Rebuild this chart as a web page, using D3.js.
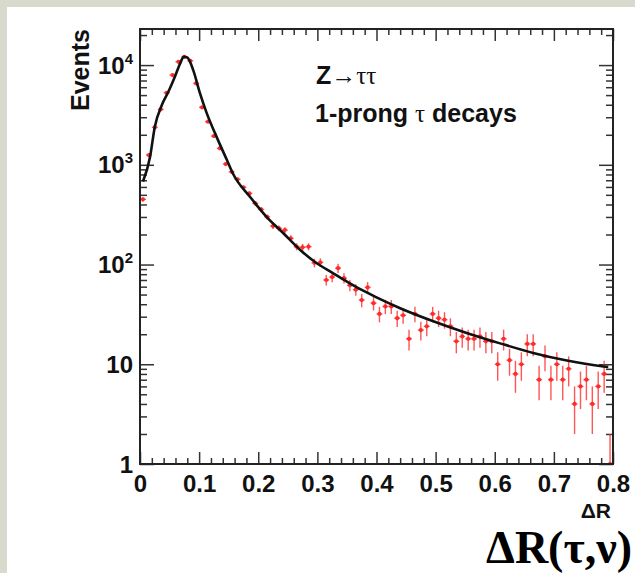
<!DOCTYPE html>
<html>
<head>
<meta charset="UTF-8">
<title>Delta R tau nu</title>
<script src="https://cdn.jsdelivr.net/npm/d3@7"></script>
<style>
  body { margin: 0; background: #ffffff; }
  svg { display: block; }
</style>
</head>
<body>
<svg width="635" height="573"></svg>
<script>
// bin contents, 80 bins of width 0.01 from 0 to 0.8
const binWidth = 0.01;
const counts = [
  451, 1253, 2373, 3595, 5275, 7943, 10790, 12110, 11040, 6550,
  3767, 2704, 1941, 1462, 1018, 851, 715, 594, 517, 411,
  357, 301, 243, 231, 222, 183, 151, 149, 151, 104,
  105, 70, 75, 92, 73, 62, 56, 44, 59, 41,
  32, 38, 38, 29, 31, 18, 32, 22, 24, 32,
  29, 28, 24, 17, 19, 18, 18, 19, 17, 17,
  10, 18, 11, 8, 10, 16, 16, 7, 12, 7,
  10, 7, 9, 4, 6, 7, 4, 6, 8, 1
];

// fitted curve
const fitX = [0.005, 0.017, 0.025, 0.037, 0.048, 0.059, 0.068, 0.074, 0.080, 0.090,
  0.1015, 0.113, 0.127, 0.147, 0.158, 0.186, 0.214, 0.2425, 0.271, 0.299,
  0.325, 0.35, 0.375, 0.4, 0.44, 0.496, 0.5525, 0.609, 0.665, 0.722, 0.778, 0.792];
const fitY = [680, 1200, 2400, 3980, 5400, 7640, 10400, 12100, 11940, 8910,
  5200, 3280, 2066, 1116, 800, 478, 301, 206, 140, 103,
  83, 67.5, 55.6, 46.8, 36.5, 27, 20.6, 16.2, 13, 10.9, 9.6, 9.4];

const xMajor = [0, 0.1, 0.2, 0.3, 0.4, 0.5, 0.6, 0.7, 0.8];
const xTickLabels = ["0", "0.1", "0.2", "0.3", "0.4", "0.5", "0.6", "0.7", "0.8"];
const yMajor = [1, 10, 100, 1000, 10000];
const yLabelBase = ["1", "10", "10", "10", "10"];
const yLabelExp = ["", "", "2", "3", "4"];

const sans = "'Liberation Sans', Arial, Helvetica, sans-serif";
const serif = "'Liberation Serif', 'Times New Roman', serif";

let svg = d3.select("svg");
let pLeft = 140, pRight = 613, pTop = 29, pBottom = 464;

// slide background bands
svg.append("rect").attr("x", 0).attr("y", 0).attr("width", 635).attr("height", 7).attr("fill", "#d8dbcc");
svg.append("rect").attr("x", 0).attr("y", 0).attr("width", 7).attr("height", 573).attr("fill", "#d8dbcc");

let x = d3.scaleLinear().domain([0, 0.8]).range([pLeft, pRight]);
let y = d3.scaleLog().domain([1, 2.3e4]).range([pBottom, pTop]);

let xMinor = d3.range(0, 41).map(i => i * 0.02).filter((d, i) => i % 5 !== 0);
let yMinor = [];
yMajor.forEach(d => {
  for (let m = 2; m <= 9; m++) if (d * m <= 2.3e4) yMinor.push(d * m);
});

function styleAxis(g) {
  g.select(".domain").remove();
  g.selectAll("line").attr("stroke", "#333").attr("stroke-width", 1.5);
}

// ticks, all pointing into the frame
svg.append("g").attr("transform", `translate(${pLeft},0)`)
  .call(d3.axisLeft(y).tickValues(yMajor).tickSize(-14).tickFormat("")).call(styleAxis);
svg.append("g").attr("transform", `translate(${pLeft},0)`)
  .call(d3.axisLeft(y).tickValues(yMinor).tickSize(-7).tickFormat("")).call(styleAxis);
svg.append("g").attr("transform", `translate(${pRight},0)`)
  .call(d3.axisRight(y).tickValues(yMajor).tickSize(-14).tickFormat("")).call(styleAxis);
svg.append("g").attr("transform", `translate(${pRight},0)`)
  .call(d3.axisRight(y).tickValues(yMinor).tickSize(-7).tickFormat("")).call(styleAxis);

svg.append("g").attr("transform", `translate(0,${pTop})`)
  .call(d3.axisTop(x).tickValues(xMajor).tickSize(-12).tickFormat("")).call(styleAxis);
svg.append("g").attr("transform", `translate(0,${pTop})`)
  .call(d3.axisTop(x).tickValues(xMinor).tickSize(-6).tickFormat("")).call(styleAxis);

let xAxis = svg.append("g").attr("transform", `translate(0,${pBottom})`)
  .call(d3.axisBottom(x).tickValues(xMajor).tickSize(-12).tickPadding(11)
    .tickFormat((d, i) => xTickLabels[i]))
  .call(styleAxis);
xAxis.attr("font-family", sans).attr("font-size", 24).attr("font-weight", "bold");
xAxis.selectAll("text").attr("fill", "#111");
svg.append("g").attr("transform", `translate(0,${pBottom})`)
  .call(d3.axisBottom(x).tickValues(xMinor).tickSize(-6).tickFormat("")).call(styleAxis);

// y labels with exponents
let yLab = svg.append("g")
  .attr("font-family", sans).attr("font-size", 24).attr("font-weight", "bold")
  .attr("fill", "#111").attr("text-anchor", "end");
yMajor.forEach((d, i) => {
  let t = yLab.append("text").attr("x", pLeft - 7).attr("y", y(d)).attr("dy", "0.36em");
  t.append("tspan").text(yLabelBase[i]);
  if (yLabelExp[i]) t.append("tspan").attr("font-size", 15).attr("dy", -10).text(yLabelExp[i]);
});

// data
svg.append("clipPath").attr("id", "plot-clip")
  .append("rect").attr("x", pLeft).attr("y", pTop).attr("width", pRight - pLeft).attr("height", pBottom - pTop);

let plot = svg.append("g").attr("clip-path", "url(#plot-clip)");
let pts = counts.map((v, i) => ({ xc: (i + 0.5) * binWidth, v: v, e: Math.sqrt(v) }));

let red = "#ff2a2a";
let err = plot.append("g").attr("stroke", red).attr("stroke-width", 1.4).attr("stroke-opacity", 0.8);
err.selectAll(".ev").data(pts).enter().append("line")
  .attr("x1", d => x(d.xc)).attr("x2", d => x(d.xc))
  .attr("y1", d => y(Math.max(d.v - d.e, 1))).attr("y2", d => y(d.v + d.e));
err.selectAll(".eh").data(pts).enter().append("line")
  .attr("x1", d => x(d.xc - binWidth / 2)).attr("x2", d => x(d.xc + binWidth / 2))
  .attr("y1", d => y(d.v)).attr("y2", d => y(d.v));
plot.append("g").selectAll("circle").data(pts).enter().append("circle")
  .attr("cx", d => x(d.xc)).attr("cy", d => y(d.v)).attr("r", 2.1).attr("fill", red);

let line = d3.line().x(d => x(d[0])).y(d => y(d[1])).curve(d3.curveMonotoneX);
plot.append("path").datum(fitX.map((d, i) => [d, fitY[i]]))
  .attr("d", line).attr("fill", "none").attr("stroke", "#111").attr("stroke-width", 2.6);

// frame
svg.append("rect").attr("x", pLeft).attr("y", pTop).attr("width", pRight - pLeft).attr("height", pBottom - pTop)
  .attr("fill", "none").attr("stroke", "#222").attr("stroke-width", 2);

// titles
svg.append("text")
  .attr("transform", "translate(89,29) rotate(-90)")
  .attr("text-anchor", "end")
  .attr("font-family", sans).attr("font-size", 25).attr("font-weight", "bold").attr("fill", "#111")
  .text("Events");

svg.append("text").attr("x", 611).attr("y", 518).attr("text-anchor", "end")
  .attr("font-family", sans).attr("font-size", 21).attr("font-weight", "bold").attr("fill", "#111")
  .text("ΔR");

let leg1 = svg.append("text").attr("x", 316).attr("y", 84)
  .attr("font-family", sans).attr("font-size", 25).attr("font-weight", "bold").attr("fill", "#111");
leg1.append("tspan").text("Z");
leg1.append("tspan").attr("font-family", serif).attr("font-weight", "normal").text("→ττ");

let leg2 = svg.append("text").attr("x", 315).attr("y", 122)
  .attr("font-family", sans).attr("font-size", 25).attr("font-weight", "bold").attr("fill", "#111");
leg2.append("tspan").text("1-prong ");
leg2.append("tspan").attr("font-family", serif).attr("font-weight", "normal").text("τ");
leg2.append("tspan").text(" decays");

svg.append("text").attr("x", 632).attr("y", 563).attr("text-anchor", "end")
  .attr("font-family", serif).attr("font-size", 46).attr("font-weight", "bold").attr("fill", "#000")
  .text("ΔR(τ,ν)");
</script>
</body>
</html>
